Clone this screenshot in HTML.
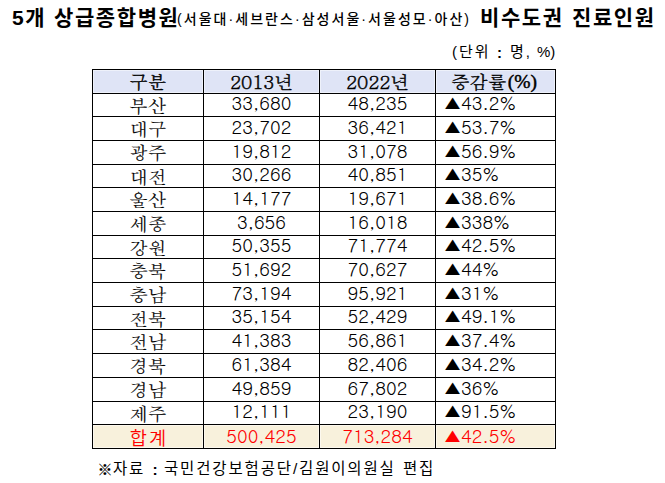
<!DOCTYPE html>
<html lang="ko">
<head>
<meta charset="utf-8">
<title>5개 상급종합병원 비수도권 진료인원</title>
<style>
html,body{margin:0;padding:0;background:#fff;}
body{width:665px;height:483px;position:relative;overflow:hidden;}
.title span{position:absolute;top:0;white-space:nowrap;color:#000;line-height:1;
  font-family:"Liberation Sans","Noto Sans CJK KR",sans-serif;}
.title .big{font-size:21px;font-weight:700;top:6.5px;letter-spacing:1.6px;}
.title .small{font-size:14px;font-weight:500;top:12px;letter-spacing:2.05px;}
.unit span{position:absolute;top:44px;font-size:15px;line-height:1;white-space:nowrap;letter-spacing:2px;
  font-family:"Liberation Sans","Noto Sans CJK KR",sans-serif;}
.grid{position:absolute;left:92px;top:69px;display:grid;background:#000;
  grid-template-columns:110px 115px 115px 119px;
  grid-template-rows:23px 22px 23px 23px 22px 23px 23px 22px 23px 23px 22px 23px 23px 23px 22px 23px;
  gap:1px;padding:1px;}
.grid div{background:#fff;display:flex;align-items:center;justify-content:center;white-space:nowrap;
  font-size:18.67px;color:#000;line-height:1;}
.grid .k{font-family:"Batang","Liberation Serif","Noto Serif CJK KR","Noto Serif CJK SC",serif;-webkit-text-stroke:0.15px #000;}
.grid .n{font-family:"Gulim","Liberation Sans","Noto Sans CJK KR",sans-serif;padding-bottom:5px;box-sizing:border-box;}
.grid .s{font-family:"Liberation Sans","Noto Sans CJK KR",sans-serif;font-weight:350;letter-spacing:2px;padding-left:2px;padding-top:5px;box-sizing:border-box;}
.grid .h{background:#dfe4f6;box-shadow:inset 0 0 0 1px #eef1fa;font-family:"Batang","Liberation Serif","Noto Serif CJK KR","Noto Serif CJK SC",serif;-webkit-text-stroke:0.45px #000;}
.grid .t{background:#f8f1dc;color:#f00;box-shadow:inset 0 0 0 1px #fcf8ee;}
.grid .t.n{padding-bottom:3px;}
.grid .r{justify-content:flex-start;padding-left:8px;}
.grid i{font-style:normal;}
.grid .ls{font-family:"Liberation Serif",serif;font-size:19.5px;margin-left:1px;}
.note span{position:absolute;top:461px;font-size:15.5px;line-height:1;white-space:nowrap;letter-spacing:1.85px;
  font-family:"Liberation Sans","Noto Sans CJK KR",sans-serif;}
</style>
</head>
<body>
<div class="title">
<span class="big" style="left:12px">5개</span><span class="big" style="left:54px">상급종합병원</span><span class="small" style="left:177px">(서울대·세브란스·삼성서울·서울성모·아산)</span><span class="big" style="left:480px">비수도권</span><span class="big" style="left:572px">진료인원</span>
</div>
<div class="unit"><span style="left:452px">(단위</span><span style="left:497px;top:45px;font-weight:700">:</span><span style="left:510px">명,</span><span style="left:537px;letter-spacing:0">%)</span></div>
<div class="grid">
<div class="h k">구분</div><div class="h">2013년</div><div class="h">2022년</div><div class="h" style="padding-right:3px;box-sizing:border-box">증감률<span class="ls">(%)</span></div>
<div class="k">부산</div><div class="n">33,680</div><div class="n">48,235</div><div class="n r"><i>▲</i>43.2%</div>
<div class="k">대구</div><div class="n">23,702</div><div class="n">36,421</div><div class="n r"><i>▲</i>53.7%</div>
<div class="k">광주</div><div class="n">19,812</div><div class="n">31,078</div><div class="n r"><i>▲</i>56.9%</div>
<div class="k">대전</div><div class="n">30,266</div><div class="n">40,851</div><div class="n r"><i>▲</i>35%</div>
<div class="k">울산</div><div class="n">14,177</div><div class="n">19,671</div><div class="n r"><i>▲</i>38.6%</div>
<div class="k">세종</div><div class="n">3,656</div><div class="n">16,018</div><div class="n r"><i>▲</i>338%</div>
<div class="k">강원</div><div class="n">50,355</div><div class="n">71,774</div><div class="n r"><i>▲</i>42.5%</div>
<div class="k">충북</div><div class="n">51,692</div><div class="n">70,627</div><div class="n r"><i>▲</i>44%</div>
<div class="k">충남</div><div class="n">73,194</div><div class="n">95,921</div><div class="n r"><i>▲</i>31%</div>
<div class="k">전북</div><div class="n">35,154</div><div class="n">52,429</div><div class="n r"><i>▲</i>49.1%</div>
<div class="k">전남</div><div class="n">41,383</div><div class="n">56,861</div><div class="n r"><i>▲</i>37.4%</div>
<div class="k">경북</div><div class="n">61,384</div><div class="n">82,406</div><div class="n r"><i>▲</i>34.2%</div>
<div class="k">경남</div><div class="n">49,859</div><div class="n">67,802</div><div class="n r"><i>▲</i>36%</div>
<div class="k">제주</div><div class="n">12,111</div><div class="n">23,190</div><div class="n r"><i>▲</i>91.5%</div>
<div class="t s">합계</div><div class="t n">500,425</div><div class="t n">713,284</div><div class="t n r"><i>▲</i>42.5%</div>
</div>
<div class="note"><span style="left:96px;top:460px;font-size:18px;font-family:Gulim,'Noto Sans CJK KR',sans-serif">※</span><span style="left:113px">자료</span><span style="left:152.5px;top:461.5px;font-weight:700">:</span><span style="left:164px">국민건강보험공단/김원이의원실</span><span style="left:403px">편집</span></div>
</body>
</html>
